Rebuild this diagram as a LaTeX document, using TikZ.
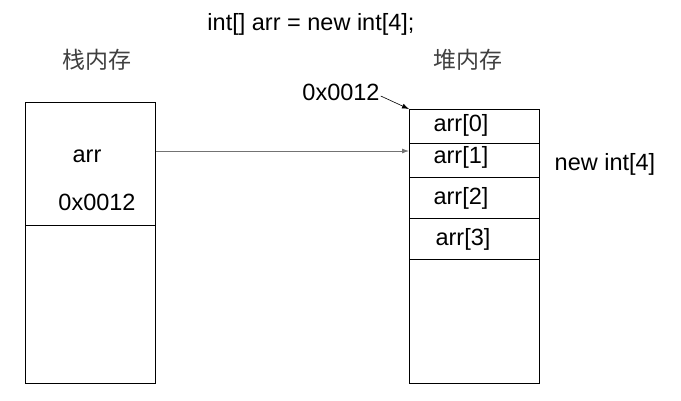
\documentclass[tikz,border=0pt]{standalone}
\usepackage{fontspec}
\setmainfont{Liberation Sans}
\newfontfamily\cjk{Noto Sans CJK SC}
\usetikzlibrary{arrows.meta}
\tikzset{
cell/.style={
	draw, line width=0.8pt, anchor=north west, inner sep=0pt,
	minimum width=130pt},
word/.style={inner sep=0pt, font=\fontsize{23.5}{28}\selectfont},
title/.style={word, text=black!75, font=\cjk\fontsize{23}{28}\selectfont},
ptr/.style={-{Latex[length=7pt,width=5pt]}, line width=0.8pt}
}

\begin{document}
\begin{tikzpicture}[x=1pt, y=-1pt]
	\useasboundingbox (0,0) rectangle (681,400);
	% stack
	\node[cell, minimum height=123pt] (s0) at (25,102) {};
	\node[cell, minimum height=158pt] (s1) at (25,225) {};
	% heap
	\node[cell, minimum height=34pt] (h0) at (409,109) {};
	\node[cell, minimum height=34pt] (h1) at (409,143) {};
	\node[cell, minimum height=41pt] (h2) at (409,177) {};
	\node[cell, minimum height=41pt] (h3) at (409,218) {};
	\node[cell, minimum height=124pt] (h4) at (409,259) {};
	% texts
	\node[word] (code) at (311,24) {int[] arr = new int[4];};
	\node[title] (stack) at (97,60) {栈内存};
	\node[title] (heap) at (468,60) {堆内存};
	\node[word] (var) at (87,156) {arr};
	\node[word] (val) at (97,202) {0x0012};
	\node[word] (addr) at (341,92) {0x0012};
	\node[word] (a0) at (461,125) {arr[0]};
	\node[word] (a1) at (461,157) {arr[1]};
	\node[word] (a2) at (461,198) {arr[2]};
	\node[word] (a3) at (463,239) {arr[3]};
	\node[word] (new) at (605,164) {new int[4]};
	% arrows
	\coordinate (ptrin) at (409,151);
	\draw[ptr, black!55] (s0.east |- ptrin) -- (ptrin);
	\draw[ptr, line width=0.6pt] (addr.east) ++(1,4) -- (h0.north west);
\end{tikzpicture}
\end{document}
